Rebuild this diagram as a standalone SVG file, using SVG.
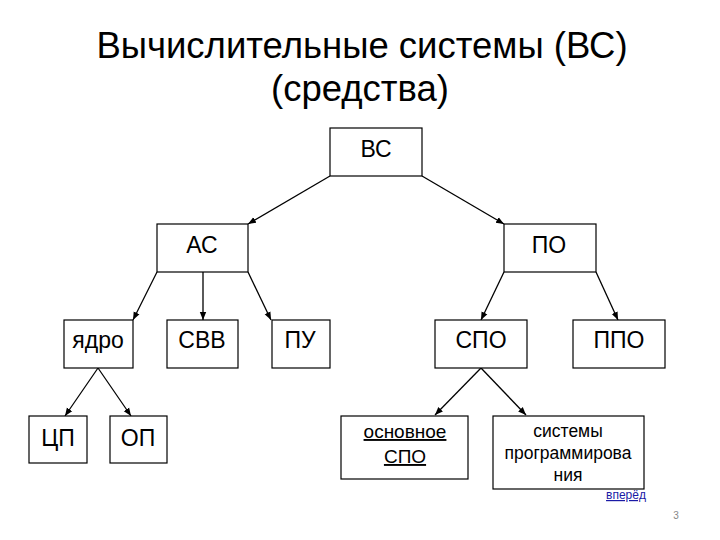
<svg xmlns="http://www.w3.org/2000/svg" width="720" height="540" viewBox="0 0 720 540">
<style>
text{font-family:"Liberation Sans",Arial,sans-serif;fill:#000;text-anchor:middle}
.box{fill:#fff;stroke:#000;stroke-width:1.2}
.t{font-size:23px}
.title{font-size:36.5px}
.c{stroke:#000;stroke-width:1.3;fill:none;marker-end:url(#ah)}
</style>
<defs>
<marker id="ah" viewBox="0 0 10 10" refX="10" refY="5" markerWidth="8" markerHeight="8" markerUnits="userSpaceOnUse" orient="auto">
<path d="M0,1 L10,5 L0,9 z" fill="#000"/>
</marker>
</defs>
<rect width="720" height="540" fill="#fff"/>
<g id="title">
<text class="title" x="362" y="58">Вычислительные системы (ВС)</text>
<text class="title" x="360" y="101">(средства)</text>
</g>
<g id="connectors">
<line class="c" x1="330" y1="176" x2="248" y2="224"/>
<line class="c" x1="422" y1="176" x2="504" y2="224"/>
<line class="c" x1="157" y1="272" x2="133" y2="320"/>
<line class="c" x1="203" y1="272" x2="203" y2="320"/>
<line class="c" x1="248" y1="272" x2="271" y2="320"/>
<line class="c" x1="504" y1="272" x2="481" y2="320"/>
<line class="c" x1="596" y1="272" x2="618" y2="320"/>
<line class="c" x1="98" y1="368" x2="65" y2="416"/>
<line class="c" x1="98" y1="368" x2="131" y2="416"/>
<line class="c" x1="481" y1="368" x2="435" y2="415"/>
<line class="c" x1="481" y1="368" x2="526" y2="415"/>
</g>
<g id="vs"><rect class="box" x="330" y="128" width="92" height="48"/><text class="t" x="376" y="157">ВС</text></g>
<g id="as"><rect class="box" x="157" y="224" width="91" height="48"/><text class="t" x="202" y="253">АС</text></g>
<g id="po"><rect class="box" x="504" y="224" width="92" height="48"/><text class="t" x="549" y="253">ПО</text></g>
<g id="yadro"><rect class="box" x="64" y="320" width="69" height="48"/><text class="t" x="98" y="348">ядро</text></g>
<g id="svv"><rect class="box" x="167" y="320" width="71" height="48"/><text class="t" x="202" y="348">СВВ</text></g>
<g id="pu"><rect class="box" x="272" y="320" width="58" height="48"/><text class="t" x="300" y="348">ПУ</text></g>
<g id="spo"><rect class="box" x="435" y="320" width="92" height="48"/><text class="t" x="481" y="348">СПО</text></g>
<g id="ppo"><rect class="box" x="573" y="320" width="92" height="48"/><text class="t" x="619" y="348">ППО</text></g>
<g id="cp"><rect class="box" x="29" y="416" width="58" height="47"/><text class="t" x="58" y="446">ЦП</text></g>
<g id="op"><rect class="box" x="110" y="416" width="57" height="47"/><text class="t" x="138" y="446">ОП</text></g>
<g id="osn"><rect class="box" x="341" y="416" width="127" height="63"/>
<text x="405" y="438" style="font-size:19px;text-decoration:underline">основное</text>
<text x="405" y="463" style="font-size:19px;text-decoration:underline">СПО</text></g>
<g id="sist"><rect class="box" x="493" y="416" width="151" height="73"/>
<text x="568" y="437" style="font-size:17.5px">системы</text>
<text x="568" y="459" style="font-size:17.5px">программирова</text>
<text x="568" y="481" style="font-size:17.5px">ния</text></g>
<text x="626" y="499" style="font-size:12px;fill:#1a1aa6;text-decoration:underline">вперёд</text>
<text x="676" y="519" style="font-size:10px;fill:#888">3</text>
</svg>
